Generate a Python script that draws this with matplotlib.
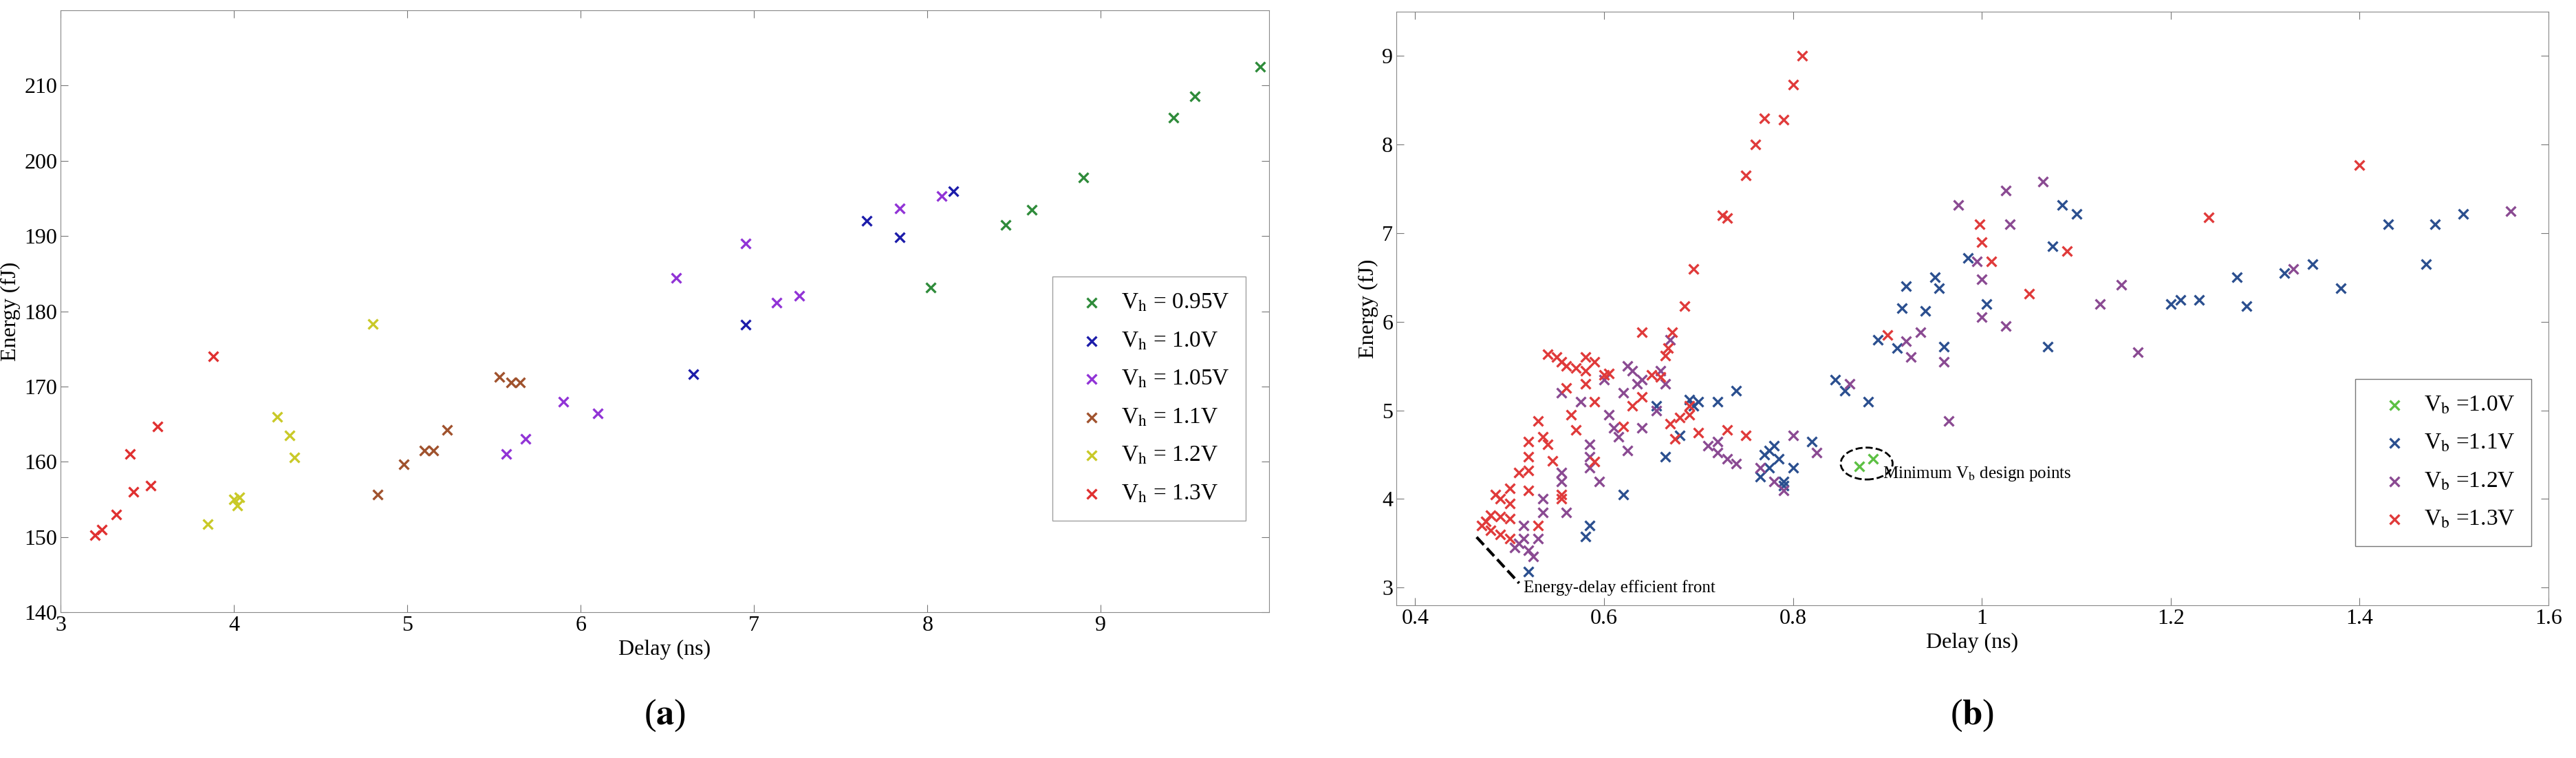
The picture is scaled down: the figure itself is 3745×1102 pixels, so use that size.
import matplotlib
matplotlib.use("Agg")
import matplotlib.pyplot as plt
from matplotlib.patches import Ellipse

plt.rcParams['font.family'] = ['Liberation Serif', 'DejaVu Serif']
plt.rcParams['mathtext.fontset'] = 'stix'

# panel (a): Vh sweep
a_labels = ['0.95V', '1.0V', '1.05V', '1.1V', '1.2V', '1.3V']
a_colors = ['#2e8b3a', '#1c1caa', '#9133d6', '#a0522d', '#c9c928', '#e03030']
a_x = [
    [8.02, 8.45, 8.6, 8.9, 9.42, 9.54, 9.92],
    [6.65, 6.95, 7.65, 7.84, 8.15],
    [5.57, 5.68, 5.9, 6.1, 6.55, 6.95, 7.13, 7.26, 7.84, 8.08],
    [4.83, 4.98, 5.1, 5.15, 5.23, 5.53, 5.6, 5.65],
    [3.85, 4.0, 4.02, 4.03, 4.25, 4.32, 4.35, 4.8],
    [3.2, 3.24, 3.32, 3.4, 3.42, 3.52, 3.56, 3.88],
]
a_y = [
    [183.2, 191.5, 193.5, 197.8, 205.7, 208.6, 212.5],
    [171.6, 178.2, 192.0, 189.8, 196.0],
    [161.0, 163.0, 168.0, 166.4, 184.4, 189.0, 181.1, 182.1, 193.7, 195.3],
    [155.6, 159.7, 161.5, 161.5, 164.2, 171.3, 170.5, 170.5],
    [151.7, 155.0, 154.2, 155.3, 166.0, 163.5, 160.6, 178.3],
    [150.2, 151.0, 153.0, 161.0, 156.0, 156.8, 164.7, 174.0],
]

# panel (b): Vb sweep
b_labels = ['1.0V', '1.1V', '1.2V', '1.3V']
b_colors = ['#5cc043', '#2b4f8f', '#8a4a92', '#e03a3a']
b_x = [
    [0.87, 0.885],
    [0.52, 0.58, 0.585, 0.62, 0.665, 0.655, 0.68, 0.69, 0.695, 0.7, 0.72, 0.74, 0.765, 0.77, 0.775,
     0.78, 0.785, 0.79, 0.8, 0.79, 0.775, 0.82, 0.845, 0.855, 0.88, 0.89, 0.91, 0.915, 0.92, 0.94,
     0.95, 0.955, 0.96, 0.985, 1.005, 1.07, 1.075, 1.085, 1.1, 1.2, 1.21, 1.23, 1.27, 1.28, 1.32,
     1.35, 1.38, 1.43, 1.47, 1.48, 1.51],
    [0.51, 0.505, 0.515, 0.52, 0.525, 0.53, 0.515, 0.535, 0.535, 0.555, 0.555, 0.56, 0.585, 0.585,
     0.585, 0.595, 0.555, 0.575, 0.6, 0.605, 0.61, 0.615, 0.62, 0.625, 0.63, 0.635, 0.64, 0.625,
     0.64, 0.655, 0.66, 0.665, 0.67, 0.72, 0.71, 0.72, 0.73, 0.74, 0.765, 0.78, 0.79, 0.8, 0.825,
     0.86, 0.92, 0.925, 0.935, 0.96, 0.965, 0.975, 0.995, 1.0, 1.0, 1.025, 1.025, 1.03, 1.065,
     1.125, 1.148, 1.165, 1.33, 1.56],
    [0.81, 0.80, 0.77, 0.79, 0.76, 0.75, 0.725, 0.73, 0.695, 0.685, 0.672, 0.64, 0.668, 0.665,
     0.54, 0.55, 0.555, 0.56, 0.57, 0.58, 0.59, 0.58, 0.6, 0.56, 0.58, 0.59, 0.565, 0.57, 0.53,
     0.535, 0.52, 0.54, 0.545, 0.52, 0.51, 0.52, 0.5, 0.52, 0.49, 0.485, 0.5, 0.48, 0.475, 0.49,
     0.5, 0.47, 0.48, 0.49, 0.5, 0.53, 0.555, 0.555, 0.59, 0.62, 0.64, 0.65, 0.66, 0.67, 0.675,
     0.69, 0.7, 0.73, 0.75, 0.69, 0.68, 0.9, 0.998, 1.0, 1.01, 1.05, 1.09, 1.24, 1.4, 0.605, 0.63],
]
b_y = [
    [4.37, 4.45],
    [3.18, 3.58, 3.7, 4.05, 4.48, 5.05, 4.72, 5.12, 5.05, 5.1, 5.1, 5.22, 4.25, 4.5, 4.35,
     4.6, 4.45, 4.2, 4.35, 4.15, 4.55, 4.65, 5.35, 5.22, 5.1, 5.8, 5.7, 6.15, 6.4, 6.12,
     6.5, 6.38, 5.72, 6.72, 6.2, 5.72, 6.85, 7.32, 7.22, 6.2, 6.25, 6.25, 6.5, 6.18, 6.55,
     6.65, 6.38, 7.1, 6.65, 7.1, 7.22],
    [3.5, 3.45, 3.55, 3.42, 3.35, 3.55, 3.7, 3.85, 4.0, 4.2, 4.3, 3.85, 4.35, 4.48,
     4.62, 4.2, 5.2, 5.1, 5.35, 4.95, 4.8, 4.7, 5.2, 5.5, 5.45, 5.3, 5.35, 4.55,
     4.8, 5.0, 5.45, 5.3, 5.8, 4.65, 4.6, 4.52, 4.45, 4.4, 4.35, 4.2, 4.1, 4.72, 4.52,
     5.3, 5.78, 5.6, 5.88, 5.55, 4.88, 7.32, 6.68, 6.48, 6.05, 7.48, 5.95, 7.1, 7.58,
     6.2, 6.42, 5.66, 6.6, 7.25],
    [9.0, 8.68, 8.3, 8.28, 8.0, 7.65, 7.2, 7.17, 6.6, 6.18, 5.88, 5.88, 5.7, 5.62,
     5.63, 5.6, 5.55, 5.5, 5.48, 5.45, 5.55, 5.6, 5.4, 5.25, 5.3, 5.1, 4.95, 4.78, 4.88,
     4.7, 4.65, 4.62, 4.43, 4.48, 4.3, 4.32, 4.12, 4.1, 4.0, 4.05, 3.95, 3.82, 3.75, 3.8,
     3.78, 3.7, 3.65, 3.6, 3.55, 3.7, 4.05, 4.0, 4.42, 4.82, 5.15, 5.4, 5.38, 4.85, 4.68,
     4.95, 4.75, 4.78, 4.72, 5.05, 4.92, 5.85, 7.1, 6.9, 6.68, 6.32, 6.8, 7.18, 7.77, 5.42, 5.05],
]
front_x = [0.465, 0.51]
front_y = [3.57, 3.05]

fig = plt.figure(figsize=(37.45, 11.02), dpi=100)
ax1 = fig.add_axes([88 / 3745, 1 - 890 / 1102, 1757 / 3745, 875 / 1102])
ax2 = fig.add_axes([2030 / 3745, 1 - 880 / 1102, 1675 / 3745, 863 / 1102])


def style(ax):
    for s in ax.spines.values():
        s.set_color('#888888')
    ax.tick_params(direction='in', top=True, right=True, labelsize=23,
                   length=8, color='#777777')


for xs, ys, c, lab in zip(a_x, a_y, a_colors, a_labels):
    ax1.scatter(xs, ys, marker='x', s=100, linewidths=2.4, color=c,
                label=r'V$_{\mathrm{h}}$ = ' + lab)
ax1.set_xlim(3, 9.97)
ax1.set_ylim(140, 220)
ax1.set_xticks(range(3, 10))
ax1.set_yticks(range(140, 220, 10))
ax1.set_xlabel('Delay (ns)', fontsize=23)
ax1.set_ylabel('Energy (fJ)', fontsize=23)
style(ax1)
ax1.legend(loc='center right', bbox_to_anchor=(0.99, 0.355), fontsize=24,
           fancybox=False, edgecolor='#888888', handletextpad=0.3,
           labelspacing=0.75, borderpad=0.7)

for xs, ys, c, lab in zip(b_x, b_y, b_colors, b_labels):
    ax2.scatter(xs, ys, marker='x', s=100, linewidths=2.4, color=c,
                label=r'V$_{\mathrm{b}}$ =' + lab)
ax2.plot(front_x, front_y, 'k--', lw=3)
ax2.add_patch(Ellipse((0.878, 4.4), 0.055, 0.36, fill=False, ls='--', lw=2, ec='black'))
ax2.text(0.895, 4.28, r'Minimum V$_{\mathrm{b}}$ design points', fontsize=18, va='center')
ax2.text(0.515, 3.0, 'Energy-delay efficient front', fontsize=18, va='center')
ax2.set_xlim(0.38, 1.6)
ax2.set_ylim(2.8, 9.5)
ax2.set_yticks(range(3, 10))
ax2.set_xticks([0.4, 0.6, 0.8, 1.0, 1.2, 1.4, 1.6])
ax2.set_xticklabels(['0.4', '0.6', '0.8', '1', '1.2', '1.4', '1.6'])
ax2.set_xlabel('Delay (ns)', fontsize=23)
ax2.set_ylabel('Energy (fJ)', fontsize=23)
style(ax2)
ax2.legend(loc='lower right', bbox_to_anchor=(0.995, 0.08), fontsize=24,
           fancybox=False, edgecolor='#555555', handletextpad=0.3,
           labelspacing=0.75, borderpad=0.7)

fig.text(ax1.get_position().x0 + ax1.get_position().width / 2, 0.045,
         r'($\mathbf{a}$)', fontsize=38, ha='center')
fig.text(ax2.get_position().x0 + ax2.get_position().width / 2, 0.045,
         r'($\mathbf{b}$)', fontsize=38, ha='center')

fig.savefig('out.png', dpi=100)
